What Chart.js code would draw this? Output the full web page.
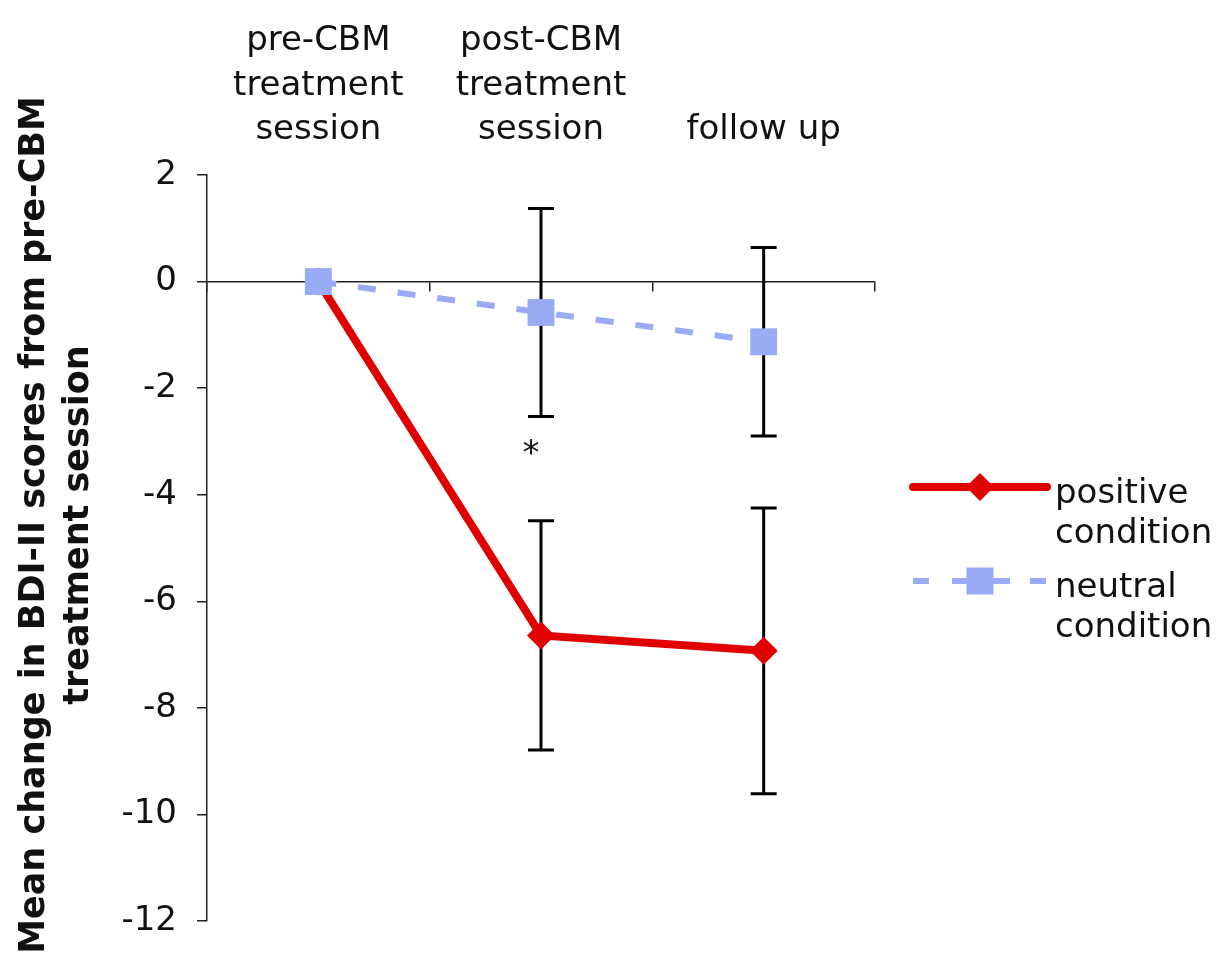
<!DOCTYPE html>
<html><head><meta charset="utf-8">
<script src="https://cdn.jsdelivr.net/npm/chart.js@4.4.1/dist/chart.umd.min.js"></script>
<style>html,body{margin:0;padding:0;background:#fff;} #wrap{width:1221px;height:970px;position:relative;}</style>
</head><body><div id="wrap"><canvas id="c"></canvas></div>
<script>
const categories = [['pre-CBM','treatment','session'], ['post-CBM','treatment','session'], 'follow up'];
const positiveMeans = [0, -6.64, -6.93];
const positiveErrors = [0, 2.15, 2.68];
const neutralMeans = [0, -0.58, -1.13];
const neutralErrors = [0, 1.95, 1.77];
const yTicks = [2, 0, -2, -4, -6, -8, -10, -12];
const yTitleLines = ['Mean change in BDI-II scores from pre-CBM', 'treatment session'];
const seriesNames = [['positive', 'condition'], ['neutral', 'condition']];
const sigIndex = 1, sigValue = -3.1, sigMark = '*';

const FONT = '"DejaVu Sans", Verdana, sans-serif';
const RED = '#e00000';
const BLUE = '#9aabf5';
const TXT = '#111';

const errorBars = {
  id: 'errorBars',
  beforeDatasetsDraw(chart) {
    const ctx = chart.ctx, xs = chart.scales.x, ys = chart.scales.y;
    const sets = [[positiveMeans, positiveErrors], [neutralMeans, neutralErrors]];
    ctx.save();
    ctx.strokeStyle = '#000';
    ctx.lineWidth = 3;
    sets.forEach(([m, e]) => {
      m.forEach((v, i) => {
        if (!e[i]) return;
        const px = xs.getPixelForValue(i);
        const t = ys.getPixelForValue(v + e[i]), b = ys.getPixelForValue(v - e[i]);
        ctx.beginPath();
        ctx.moveTo(px, t); ctx.lineTo(px, b);
        ctx.moveTo(px - 13, t); ctx.lineTo(px + 13, t);
        ctx.moveTo(px - 13, b); ctx.lineTo(px + 13, b);
        ctx.stroke();
      });
    });
    ctx.restore();
  },
  afterDraw(chart) {
    const ctx = chart.ctx, xs = chart.scales.x, ys = chart.scales.y, ca = chart.chartArea;
    ctx.save();
    // significance mark
    ctx.fillStyle = TXT;
    ctx.font = '34px ' + FONT;
    ctx.textAlign = 'center';
    ctx.textBaseline = 'alphabetic';
    const mm = ctx.measureText(sigMark);
    const py = ys.getPixelForValue(sigValue);
    ctx.fillText(sigMark, xs.getPixelForValue(sigIndex) - 10, py + (mm.actualBoundingBoxAscent - mm.actualBoundingBoxDescent) / 2);
    // y title
    ctx.font = 'bold 35px ' + FONT;
    ctx.textBaseline = 'middle';
    const cy = 525;
    yTitleLines.forEach((line, k) => {
      ctx.save();
      ctx.translate(35 + k * 44, cy);
      ctx.rotate(-Math.PI / 2);
      ctx.fillText(line, 0, 0);
      ctx.restore();
    });
    // legend
    const lx0 = ca.right + 38, lx1 = ca.right + 172, tx = ca.right + 180;
    const rows = [ca.top + 312, ca.top + 406];
    // positive
    ctx.strokeStyle = RED; ctx.lineWidth = 8; ctx.lineCap = 'round';
    ctx.beginPath(); ctx.moveTo(lx0, rows[0]); ctx.lineTo(lx1, rows[0]); ctx.stroke();
    const mx = (lx0 + lx1) / 2;
    ctx.fillStyle = RED;
    ctx.beginPath();
    ctx.moveTo(mx, rows[0] - 14); ctx.lineTo(mx + 14, rows[0]); ctx.lineTo(mx, rows[0] + 14); ctx.lineTo(mx - 14, rows[0]);
    ctx.closePath(); ctx.fill();
    // neutral
    ctx.strokeStyle = BLUE; ctx.lineWidth = 6; ctx.lineCap = 'butt';
    ctx.setLineDash([16, 23]);
    ctx.lineDashOffset = 0;
    ctx.beginPath(); ctx.moveTo(lx0, rows[1]); ctx.lineTo(lx1, rows[1]); ctx.stroke();
    ctx.setLineDash([]);
    ctx.beginPath(); ctx.moveTo(mx - 26, rows[1]); ctx.lineTo(mx + 30, rows[1]); ctx.stroke();
    ctx.fillStyle = BLUE;
    ctx.fillRect(mx - 13.5, rows[1] - 13.5, 27, 27);
    // legend text
    ctx.fillStyle = TXT;
    ctx.font = '34px ' + FONT;
    ctx.textAlign = 'left';
    ctx.textBaseline = 'alphabetic';
    seriesNames.forEach((lines, r) => {
      lines.forEach((t, k) => ctx.fillText(t, tx, rows[r] + 16 + k * 40));
    });
    ctx.restore();
  }
};

new Chart(document.getElementById('c'), {
  type: 'line',
  data: {
    labels: categories,
    datasets: [
      {
        label: 'positive condition', data: positiveMeans, order: 1,
        borderColor: RED, backgroundColor: RED, borderWidth: 8,
        pointStyle: 'rectRot', pointRadius: 14, pointBorderWidth: 0,
        pointBackgroundColor: RED, tension: 0, xAxisID: 'x', yAxisID: 'y'
      },
      {
        label: 'neutral condition', data: neutralMeans, order: 0,
        borderColor: BLUE, backgroundColor: BLUE, borderWidth: 6, borderDash: [18, 22],
        pointStyle: 'rect', pointRadius: 19, pointBorderWidth: 0,
        pointBackgroundColor: BLUE, tension: 0, xAxisID: 'x', yAxisID: 'y'
      }
    ]
  },
  options: {
    responsive: true, maintainAspectRatio: false, animation: false,
    layout: { padding: { left: 0, top: 0, right: 346, bottom: 49 } },
    plugins: { legend: { display: false }, tooltip: { enabled: false } },
    scales: {
      x: {
        type: 'category', position: 'top', offset: true,
        grid: { display: false, drawTicks: false }, border: { display: false },
        ticks: { color: TXT, font: { family: FONT, size: 34, lineHeight: 1.32 }, padding: 22, maxRotation: 0, autoSkip: false },
        afterFit(s) { s.height = 175; }
      },
      xz: {
        type: 'category', position: { y: 0 }, offset: true,
        labels: categories,
        grid: { display: true, drawOnChartArea: false, drawTicks: true, tickLength: 9, offset: true, color: '#222', lineWidth: 1.5 },
        border: { display: true, color: '#222', width: 1.5 },
        ticks: { display: false }
      },
      y: {
        type: 'linear', position: 'left', min: -12, max: 2,
        afterBuildTicks(s) { s.ticks = yTicks.map(v => ({ value: v })); },
        grid: { display: true, drawOnChartArea: false, drawTicks: true, tickLength: 10, color: '#222', lineWidth: 1.5 },
        border: { display: true, color: '#222', width: 1.5 },
        ticks: { color: TXT, font: { family: FONT, size: 34 }, padding: 20 },
        afterFit(s) { s.width = 207; }
      }
    }
  },
  plugins: [errorBars]
});
</script>
</body></html>
